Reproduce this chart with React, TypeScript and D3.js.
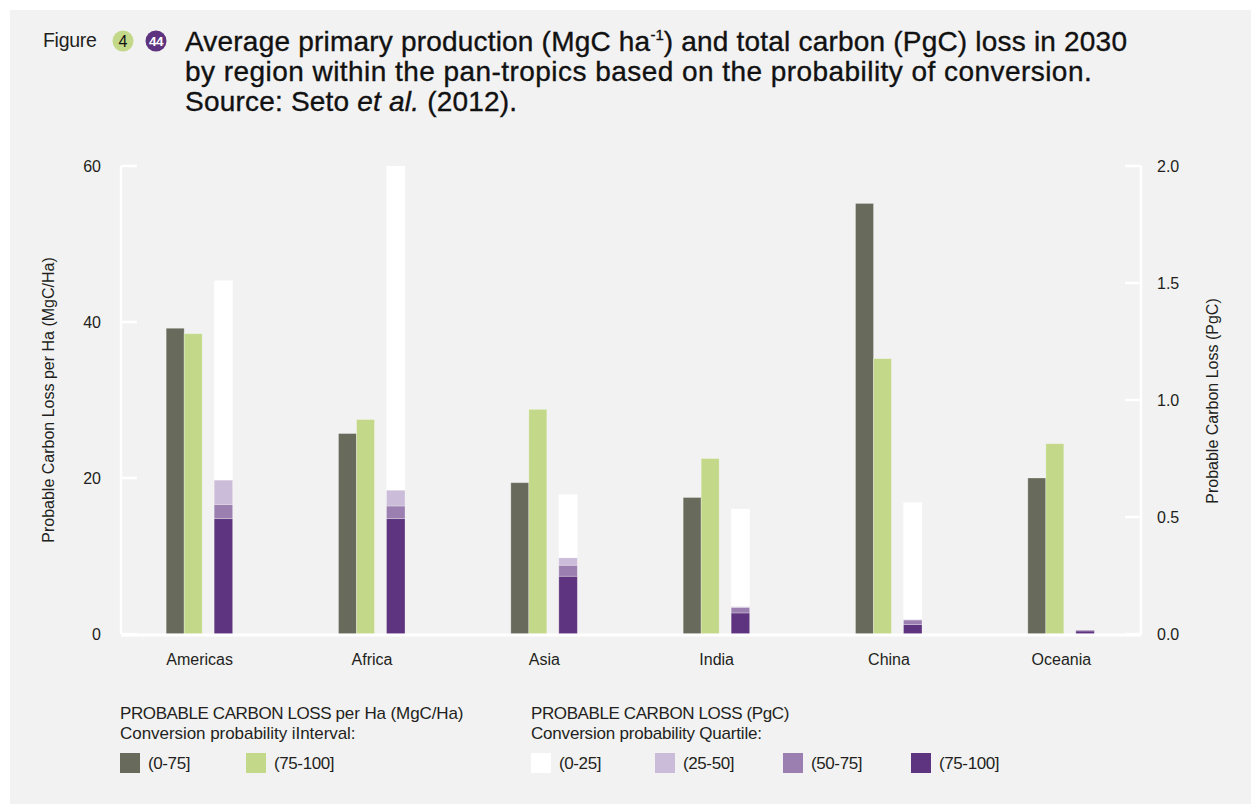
import React from "react";
import * as d3 from "d3";

const regions = ["Americas", "Africa", "Asia", "India", "China", "Oceania"];
// Probable carbon loss per Ha (MgC/Ha) by conversion probability interval
const perHa0to75 = [39.2, 25.7, 19.4, 17.5, 55.2, 20.0];
const perHa75to100 = [38.5, 27.5, 28.8, 22.5, 35.3, 24.4];
// Probable carbon loss (PgC) by conversion probability quartile (segment values)
const pgc75to100 = [0.493, 0.493, 0.247, 0.09, 0.041, 0.013];
const pgc50to75 = [0.061, 0.054, 0.047, 0.024, 0.019, 0.004];
const pgc25to50 = [0.104, 0.068, 0.032, 0.004, 0.003, 0.0];
const pgc0to25 = [0.852, 1.385, 0.271, 0.416, 0.5, 0.0];

const leftTicks = [0, 20, 40, 60];
const rightTicks = [0, 0.5, 1.0, 1.5, 2.0];

const quartileKeys = ["q75_100", "q50_75", "q25_50", "q0_25"];
const quartileColors: Record<string, string> = {
  q0_25: "#ffffff",
  q25_50: "#cbbcd9",
  q50_75: "#9b7fb0",
  q75_100: "#5e337f",
};
const darkColor = "#686b5c";
const greenColor = "#c3d888";
const textColor = "#231f20";

export default function App() {
  const W = 1251;
  const H = 804;
  const axisLeft = 121;
  const axisRight = 1141;
  const yTop = 166;
  const yBottom = 634;

  const x = d3.scaleBand<string>().domain(regions).range([113.5, 1147.5]).padding(0);
  const yL = d3.scaleLinear().domain([0, 60]).range([yBottom, yTop]);
  const yR = d3.scaleLinear().domain([0, 2]).range([yBottom, yTop]);

  const rows = regions.map((r, i) => ({
    region: r,
    q75_100: pgc75to100[i],
    q50_75: pgc50to75[i],
    q25_50: pgc25to50[i],
    q0_25: pgc0to25[i],
  }));
  const stacked = d3.stack<any>().keys(quartileKeys)(rows);

  const barW = 18;
  const center = (r: string) => (x(r) ?? 0) + x.bandwidth() / 2;
  const darkX = (r: string) => center(r) - 33.5;
  const greenX = (r: string) => center(r) - 15.5;
  const stackX = (r: string) => center(r) + 14.5;
  const stackW = 18.5;

  const sans = "'Liberation Sans', Arial, sans-serif";

  const leftLegend = [
    { label: "(0-75]", color: darkColor, x: 120 },
    { label: "(75-100]", color: greenColor, x: 246 },
  ];
  const rightLegend = [
    { label: "(0-25]", color: quartileColors.q0_25, x: 531 },
    { label: "(25-50]", color: quartileColors.q25_50, x: 655 },
    { label: "(50-75]", color: quartileColors.q50_75, x: 783 },
    { label: "(75-100]", color: quartileColors.q75_100, x: 911 },
  ];

  return (
    <svg
      width={W}
      height={H}
      style={{ position: "absolute", left: 0, top: 0, display: "block" }}
      fontFamily={sans}
    >
      <rect x={0} y={0} width={W} height={H} fill="#ffffff" />
      <rect x={10} y={10} width={W - 10} height={H - 10} fill="#f2f2f2" />

      {/* Title */}
      <text x={43} y={47} fontSize={19.5} fill={textColor} letterSpacing={-0.3}>
        Figure
      </text>
      <circle cx={123} cy={41} r={10.5} fill={greenColor} />
      <text x={123} y={47} textAnchor="middle" fontSize={16} fill="#111">
        4
      </text>
      <circle cx={156} cy={41} r={10.5} fill="#5e337f" />
      <text x={156} y={46} textAnchor="middle" fontSize={13.5} fontWeight="bold" fill="#fff" letterSpacing={-0.6}>
        44
      </text>
      <g fontSize={28} fill="#111" letterSpacing={0.2} stroke="#111" strokeWidth={0.35}>
        <text x={185} y={51}>
          Average primary production (MgC ha
          <tspan fontSize={15} dy={-11} letterSpacing={0}>-1</tspan>
          <tspan dy={11}>) and total carbon (PgC) loss in 2030</tspan>
        </text>
        <text x={185} y={81} letterSpacing={0.45}>by region within the pan-tropics based on the probability of conversion.</text>
        <text x={185} y={111}>
          Source: Seto <tspan fontStyle="italic">et al.</tspan> (2012).
        </text>
      </g>

      {/* Axes */}
      <g stroke="#ffffff" strokeWidth={2.5}>
        <line x1={axisLeft} x2={axisLeft} y1={yTop} y2={yBottom} />
        <line x1={axisRight} x2={axisRight} y1={yTop} y2={yBottom} />
        {leftTicks.map((t) => (
          <line key={"lt" + t} x1={axisLeft} x2={axisLeft + 16} y1={yL(t)} y2={yL(t)} />
        ))}
        {rightTicks.map((t) => (
          <line key={"rt" + t} x1={axisRight - 16} x2={axisRight} y1={yR(t)} y2={yR(t)} />
        ))}
      </g>
      <g fontSize={16} fill={textColor}>
        {leftTicks.map((t) => (
          <text key={"ll" + t} x={101} y={yL(t) + 6} textAnchor="end">
            {t}
          </text>
        ))}
        {rightTicks.map((t) => (
          <text key={"rl" + t} x={1157} y={yR(t) + 6}>
            {d3.format(".1f")(t)}
          </text>
        ))}
        <text transform={`translate(54,400) rotate(-90)`} textAnchor="middle">
          Probable Carbon Loss per Ha (MgC/Ha)
        </text>
        <text transform={`translate(1218,401) rotate(-90)`} textAnchor="middle">
          Probable Carbon Loss (PgC)
        </text>
        {regions.map((r) => (
          <text key={"c" + r} x={center(r)} y={665} textAnchor="middle">
            {r}
          </text>
        ))}
      </g>

      {/* Bars */}
      <g stroke="rgba(255,255,255,0.35)" strokeWidth={0.8}>
        {regions.map((r, i) => (
          <rect key={"d" + r} x={darkX(r)} y={yL(perHa0to75[i])} width={barW} height={yBottom - yL(perHa0to75[i])} fill={darkColor} />
        ))}
        {regions.map((r, i) => (
          <rect key={"g" + r} x={greenX(r)} y={yL(perHa75to100[i])} width={barW} height={yBottom - yL(perHa75to100[i])} fill={greenColor} />
        ))}
        {stacked.map((s) =>
          s.map((d, i) => (
            <rect
              key={s.key + i}
              x={stackX(regions[i])}
              y={yR(d[1])}
              width={stackW}
              height={Math.max(0, yR(d[0]) - yR(d[1]))}
              fill={quartileColors[s.key]}
            />
          ))
        )}
      </g>
      <line x1={axisLeft} x2={axisRight} y1={yBottom + 1} y2={yBottom + 1} stroke="#ffffff" strokeWidth={3} />

      {/* Legend */}
      <g fontSize={17} fill={textColor} letterSpacing={-0.4}>
        <text x={120} y={719}>
          PROBABLE CARBON LOSS <tspan letterSpacing={-0.1}>per Ha (MgC/Ha)</tspan>
        </text>
        <text x={120} y={739} letterSpacing={-0.05}>Conversion probability iInterval:</text>
        <text x={531} y={719}>PROBABLE CARBON LOSS (PgC)</text>
        <text x={531} y={739} letterSpacing={-0.2}>Conversion probability Quartile:</text>
        {leftLegend.concat(rightLegend).map((l) => (
          <g key={l.label + l.x}>
            <rect x={l.x} y={753} width={20} height={20} fill={l.color} />
            <text x={l.x + 28} y={769}>
              {l.label}
            </text>
          </g>
        ))}
      </g>
    </svg>
  );
}
